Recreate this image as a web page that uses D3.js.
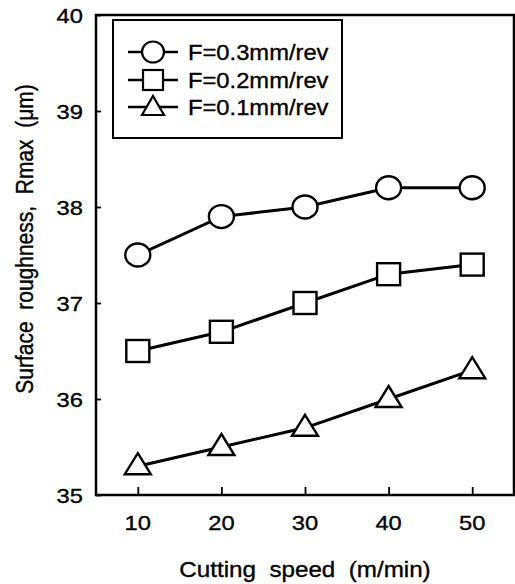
<!DOCTYPE html>
<html><head><meta charset="utf-8">
<script src="https://cdn.jsdelivr.net/npm/d3@7"></script>
<style>body{margin:0;background:#fff}text{font-family:"Liberation Sans",Arial,sans-serif;fill:#000}</style>
</head><body>
<svg id="c" width="515" height="584"></svg>
<script>
const speeds = [10, 20, 30, 40, 50];
const seriesNames = ["F=0.3mm/rev", "F=0.2mm/rev", "F=0.1mm/rev"];
const seriesMarkers = ["circle", "square", "triangle"];
const f03 = [37.5, 37.9, 38.0, 38.2, 38.2];
const f02 = [36.5, 36.7, 37.0, 37.3, 37.4];
const f01 = [35.3, 35.5, 35.7, 36.0, 36.3];
const xTicks = [10, 20, 30, 40, 50];
const yTicks = [35, 36, 37, 38, 39, 40];
const xTitle = "Cutting  speed  (m/min)";
const yTitle = "Surface  roughness,  Rmax  (\u03bcm)";

const seriesValues = [f03, f02, f01];
const svg = d3.select("#c");
const L = 96, R = 514, T = 15, B = 495;
const x = d3.scaleLinear().domain([5, 55]).range([L, R]);
const y = d3.scaleLinear().domain([35, 40]).range([B, T]);
const SX = 1.13; // horizontal stretch of the scanned lettering

// frame
svg.append("rect").attr("x", L).attr("y", T).attr("width", R - L).attr("height", B - T)
  .attr("fill", "none").attr("stroke", "#000").attr("stroke-width", 2.5);

// axes
const xa = svg.append("g").attr("transform", `translate(0,${B})`)
  .call(d3.axisTop(x).tickValues(xTicks).tickSize(8).tickFormat(""));
const ya = svg.append("g").attr("transform", `translate(${L},0)`)
  .call(d3.axisRight(y).tickValues(yTicks).tickSize(5).tickFormat(""));
[xa, ya].forEach(g => { g.select(".domain").remove(); g.selectAll("line").attr("stroke", "#000").attr("stroke-width", 1.8); });

function stretched(g, tx, ty, sx, anchor, size, txt) {
  return g.append("text").attr("transform", `translate(${tx},${ty}) scale(${sx},1)`)
    .attr("text-anchor", anchor).attr("font-size", size)
    .attr("stroke", "#000").attr("stroke-width", 0.35).attr("xml:space", "preserve").text(txt);
}

const xl = svg.append("g");
xTicks.forEach(d => stretched(xl, x(d), 530, SX, "middle", 21, d));
const yl = svg.append("g");
yTicks.forEach(d => stretched(yl, 83, y(d) + 7.5, SX, "end", 21, d));

stretched(svg, 305, 577, 1.1, "middle", 22, xTitle);
svg.append("text").attr("transform", `translate(33,239) scale(${SX},1) rotate(-90)`).attr("text-anchor", "middle")
  .attr("font-size", 21).attr("stroke", "#000").attr("stroke-width", 0.35)
  .attr("xml:space", "preserve").text(yTitle);

function marker(g, type, cx, cy) {
  if (type === "circle") g.append("ellipse").attr("cx", cx).attr("cy", cy).attr("rx", 12.5).attr("ry", 11.5);
  else if (type === "square") g.append("rect").attr("x", cx - 11.5).attr("y", cy - 11).attr("width", 23).attr("height", 22);
  else g.append("path").attr("d", `M${cx},${cy - 13}L${cx + 13},${cy + 8}L${cx - 13},${cy + 8}Z`);
}

const line = d3.line().x((d, i) => x(speeds[i])).y(d => y(d));
seriesValues.forEach((vals, si) => {
  const g = svg.append("g").attr("fill", "#fff").attr("stroke", "#000").attr("stroke-width", 2.4);
  g.append("path").datum(vals).attr("d", line).attr("fill", "none").attr("stroke-width", 3);
  vals.forEach((v, i) => marker(g, seriesMarkers[si], x(speeds[i]), y(v)));
});

// legend
svg.append("rect").attr("x", 113).attr("y", 20).attr("width", 229).attr("height", 118)
  .attr("fill", "#fff").attr("stroke", "#000").attr("stroke-width", 2);
const ly = [52, 80, 107];
seriesNames.forEach((name, si) => {
  const g = svg.append("g").attr("fill", "#fff").attr("stroke", "#000").attr("stroke-width", 2.2);
  g.append("line").attr("x1", 128).attr("x2", 178).attr("y1", ly[si]).attr("y2", ly[si]).attr("stroke-width", 2.6);
  if (seriesMarkers[si] === "circle") g.append("ellipse").attr("cx", 153).attr("cy", ly[si]).attr("rx", 11).attr("ry", 10.5);
  else if (seriesMarkers[si] === "square") g.append("rect").attr("x", 143).attr("y", ly[si] - 10).attr("width", 20).attr("height", 20);
  else g.append("path").attr("d", `M153,${ly[si] - 11}L164,${ly[si] + 8}L142,${ly[si] + 8}Z`);
  stretched(svg, 188, ly[si] + 8, 1.08, "start", 22, name);
});
</script>
</body></html>
